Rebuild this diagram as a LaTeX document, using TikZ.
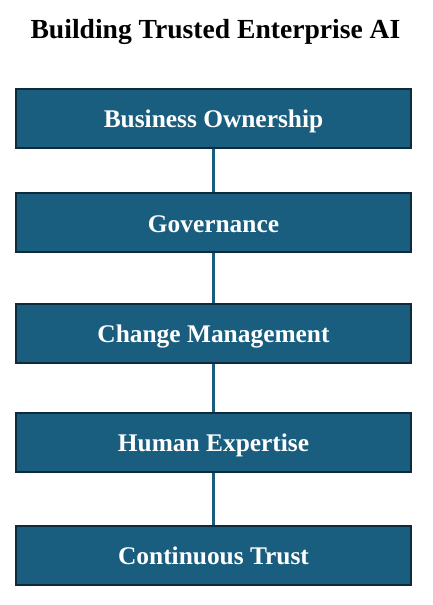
\documentclass[tikz,border=0pt]{standalone}
\usepackage{fontspec}
\setmainfont{Liberation Serif}
\definecolor{boxfill}{HTML}{1A5E7F}
\definecolor{boxedge}{HTML}{0F2A3A}
\tikzset{
  stage/.style={draw=boxedge, line width=2pt, fill=boxfill, text=white,
    minimum width=395pt, minimum height=59pt, inner sep=0pt,
    text height=19pt, text depth=0pt,
    font=\fontsize{25.4}{30}\selectfont\bfseries},
  link/.style={draw=boxfill, line width=2.2pt},
  heading/.style={font=\fontsize{27.6}{32}\selectfont\bfseries, text=black, inner sep=0pt}
}
\begin{document}
\begin{tikzpicture}[x=1pt,y=1pt]
\useasboundingbox (0,0) rectangle (432,605);
\node[heading, anchor=base] (title) at (215.5,566.7) {Building Trusted Enterprise AI};
\node[stage] (b1) at (213.5,486.5) {Business Ownership};
\node[stage] (b2) at (213.5,382) {Governance};
\node[stage] (b3) at (213.5,271.5) {Change Management};
\node[stage] (b4) at (213.5,162.5) {Human Expertise};
\node[stage] (b5) at (213.5,49.5) {Continuous Trust};
\draw[link] (b1.south) -- (b2.north);
\draw[link] (b2.south) -- (b3.north);
\draw[link] (b3.south) -- (b4.north);
\draw[link] (b4.south) -- (b5.north);
\end{tikzpicture}
\end{document}
